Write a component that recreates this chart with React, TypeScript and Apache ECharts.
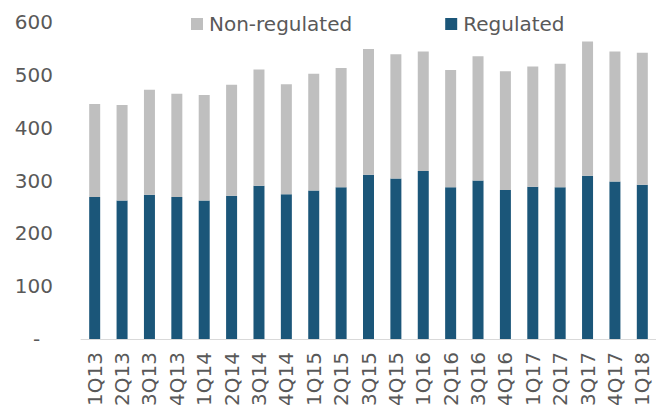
import React, { useEffect, useRef } from "react";
import * as echarts from "echarts";

const categories = [
  "1Q13", "2Q13", "3Q13", "4Q13",
  "1Q14", "2Q14", "3Q14", "4Q14",
  "1Q15", "2Q15", "3Q15", "4Q15",
  "1Q16", "2Q16", "3Q16", "4Q16",
  "1Q17", "2Q17", "3Q17", "4Q17",
  "1Q18",
];
const regulated = [
  269, 262, 273, 269, 262, 271, 290, 274, 281, 287, 311, 304, 318, 287, 300, 282, 288, 287, 309, 298, 292,
];
const nonRegulated = [
  176, 181, 199, 195, 200, 210, 220, 208, 221, 226, 238, 235, 226, 222, 235, 225, 228, 234, 254, 246, 250,
];
const yTicks = [0, 100, 200, 300, 400, 500, 600];

const FONT = "DejaVu Sans";
const TEXT = "#595959";

export default function App() {
  const ref = useRef<HTMLDivElement>(null);
  useEffect(() => {
    if (!ref.current) return;
    const chart = echarts.init(ref.current, null, { renderer: "svg" });
    chart.setOption({
      animation: false,
      textStyle: { fontFamily: FONT },
      legend: {
        data: ["Non-regulated", "Regulated"],
        left: 191,
        top: 14,
        padding: 0,
        itemWidth: 12,
        itemHeight: 12,
        itemGap: 93,
        icon: "rect",
        textStyle: { color: TEXT, fontSize: 20, fontFamily: FONT, padding: [0, 0, 0, 1] },
      },
      grid: { left: 81, top: 22, bottom: 73, width: 580, containLabel: false },
      xAxis: {
        type: "category",
        data: categories,
        axisLine: { lineStyle: { color: "#D9D9D9", width: 1 } },
        axisTick: { show: false },
        axisLabel: { rotate: 90, color: TEXT, fontSize: 20, margin: 13, fontFamily: FONT, interval: 0 },
      },
      yAxis: {
        type: "value",
        min: yTicks[0],
        max: yTicks[yTicks.length - 1],
        interval: 100,
        splitLine: { show: false },
        axisLine: { show: false },
        axisTick: { show: false },
        axisLabel: {
          color: TEXT,
          fontSize: 20,
          margin: 28,
          fontFamily: FONT,
          formatter: (v: number) => (v === 0 ? "-  " : String(v)),
        },
      },
      series: [
        {
          name: "Regulated",
          type: "bar",
          stack: "total",
          barWidth: 11,
          data: regulated,
          itemStyle: { color: "#1B5679" },
        },
        {
          name: "Non-regulated",
          type: "bar",
          stack: "total",
          barWidth: 11,
          data: nonRegulated,
          itemStyle: { color: "#BFBFBF" },
        },
      ],
    });
    return () => chart.dispose();
  }, []);
  return (
    <div
      ref={ref}
      style={{ position: "fixed", left: 0, top: 0, width: 656, height: 412, background: "#fff" }}
    />
  );
}
